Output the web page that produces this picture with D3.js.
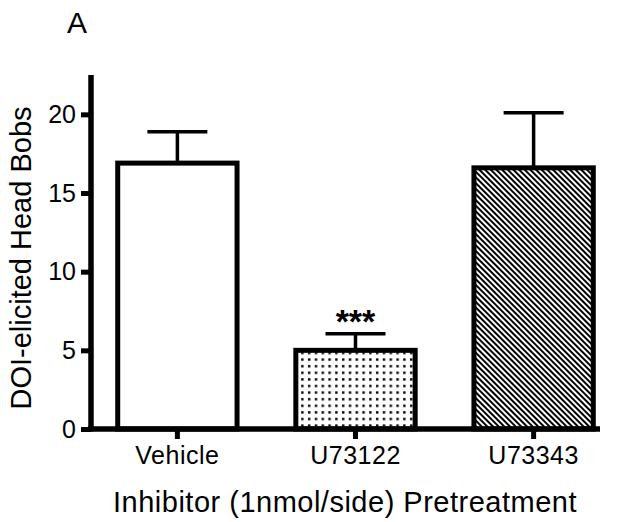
<!DOCTYPE html>
<html lang="en">
<head>
<meta charset="UTF-8">
<title>DOI-elicited Head Bobs</title>
<script src="https://cdnjs.cloudflare.com/ajax/libs/d3/7.8.5/d3.min.js"></script>
<style>
	body { margin: 0; background: #fff; }
	text { font-family: "Liberation Sans", Arial, sans-serif; fill: #000; }
</style>
</head>
<body>
<div id="container"></div>
<script>
	// values
	var groups = ["Vehicle", "U73122", "U73343"];
	var means = [16.9, 5.0, 16.6];
	var sems = [2.0, 1.05, 3.5];
	var fills = ["white", "url(#dots)", "url(#hatch)"];
	var yTicks = [0, 5, 10, 15, 20];

	var width = 629, height = 522;

	var svg = d3.select("#container").append("svg")
		.attr("width", width)
		.attr("height", height);

	var defs = svg.append("defs");
	var dots = defs.append("pattern")
		.attr("id", "dots")
		.attr("patternUnits", "userSpaceOnUse")
		.attr("width", 6.8).attr("height", 6.6);
	dots.append("rect").attr("width", 6.8).attr("height", 6.6).attr("fill", "white");
	dots.append("rect").attr("x", 2).attr("y", 2).attr("width", 2.4).attr("height", 2.4).attr("fill", "black");

	var hatch = defs.append("pattern")
		.attr("id", "hatch")
		.attr("patternUnits", "userSpaceOnUse")
		.attr("width", 4).attr("height", 4)
		.attr("patternTransform", "rotate(45)");
	hatch.append("rect").attr("width", 4).attr("height", 4).attr("fill", "white");
	hatch.append("rect").attr("width", 4).attr("height", 2).attr("fill", "black");

	var x = d3.scaleBand()
		.domain(groups)
		.range([91, 620])
		.paddingInner(0.33)
		.paddingOuter(0.15);

	var y = d3.scaleLinear()
		.domain([0, 22.5])
		.range([429, 75]);

	// bars
	var bars = svg.append("g").selectAll("g")
		.data(groups)
		.enter().append("g");

	bars.append("line")
		.attr("x1", function(d) { return x(d) + x.bandwidth() / 2; })
		.attr("x2", function(d) { return x(d) + x.bandwidth() / 2; })
		.attr("y1", function(d, i) { return y(means[i]); })
		.attr("y2", function(d, i) { return y(means[i] + sems[i]); })
		.attr("stroke", "black").attr("stroke-width", 3.5);

	bars.append("line")
		.attr("x1", function(d) { return x(d) + x.bandwidth() / 2 - 30; })
		.attr("x2", function(d) { return x(d) + x.bandwidth() / 2 + 30; })
		.attr("y1", function(d, i) { return y(means[i] + sems[i]); })
		.attr("y2", function(d, i) { return y(means[i] + sems[i]); })
		.attr("stroke", "black").attr("stroke-width", 3.5);

	bars.append("rect")
		.attr("x", function(d) { return x(d); })
		.attr("y", function(d, i) { return y(means[i]); })
		.attr("width", x.bandwidth())
		.attr("height", function(d, i) { return y(0) - y(means[i]); })
		.attr("fill", function(d, i) { return fills[i]; })
		.attr("stroke", "black")
		.attr("stroke-width", 5);

	// significance marker
	svg.append("text")
		.attr("x", x("U73122") + x.bandwidth() / 2)
		.attr("y", 333)
		.attr("text-anchor", "middle")
		.style("font-size", "34px")
		.style("font-weight", "bold")
		.text("***");

	// axes
	var yAxis = svg.append("g")
		.attr("transform", "translate(91,0)")
		.call(d3.axisLeft(y).tickValues(yTicks).tickSize(10).tickPadding(5));
	yAxis.select(".domain").remove();
	yAxis.selectAll(".tick line").attr("stroke-width", 5);
	yAxis.selectAll(".tick text").style("font-size", "25px")
		.style("font-family", "'Liberation Sans', Arial, sans-serif");
	svg.append("line")
		.attr("x1", 91).attr("x2", 91)
		.attr("y1", y(22.5)).attr("y2", y(0) + 2.5)
		.attr("stroke", "black").attr("stroke-width", 5.5);

	var xAxis = svg.append("g")
		.attr("transform", "translate(0,429)")
		.call(d3.axisBottom(x).tickSize(10).tickPadding(7));
	xAxis.select(".domain").remove();
	xAxis.selectAll(".tick line").attr("stroke-width", 5);
	xAxis.selectAll(".tick text").style("font-size", "25px")
		.style("font-family", "'Liberation Sans', Arial, sans-serif")
		.style("letter-spacing", "0.5px");
	svg.append("line")
		.attr("x1", 88).attr("x2", 600)
		.attr("y1", 429).attr("y2", 429)
		.attr("stroke", "black").attr("stroke-width", 5.5);

	// labels
	svg.append("text")
		.attr("transform", "translate(31,258) rotate(-90)")
		.attr("text-anchor", "middle")
		.style("font-size", "29px")
		.text("DOI-elicited Head Bobs");

	svg.append("text")
		.attr("x", 345)
		.attr("y", 512)
		.attr("text-anchor", "middle")
		.style("font-size", "29px")
		.style("letter-spacing", "0.5px")
		.text("Inhibitor (1nmol/side) Pretreatment");

	svg.append("text")
		.attr("x", 67)
		.attr("y", 33)
		.style("font-size", "30px")
		.text("A");
</script>
</body>
</html>
